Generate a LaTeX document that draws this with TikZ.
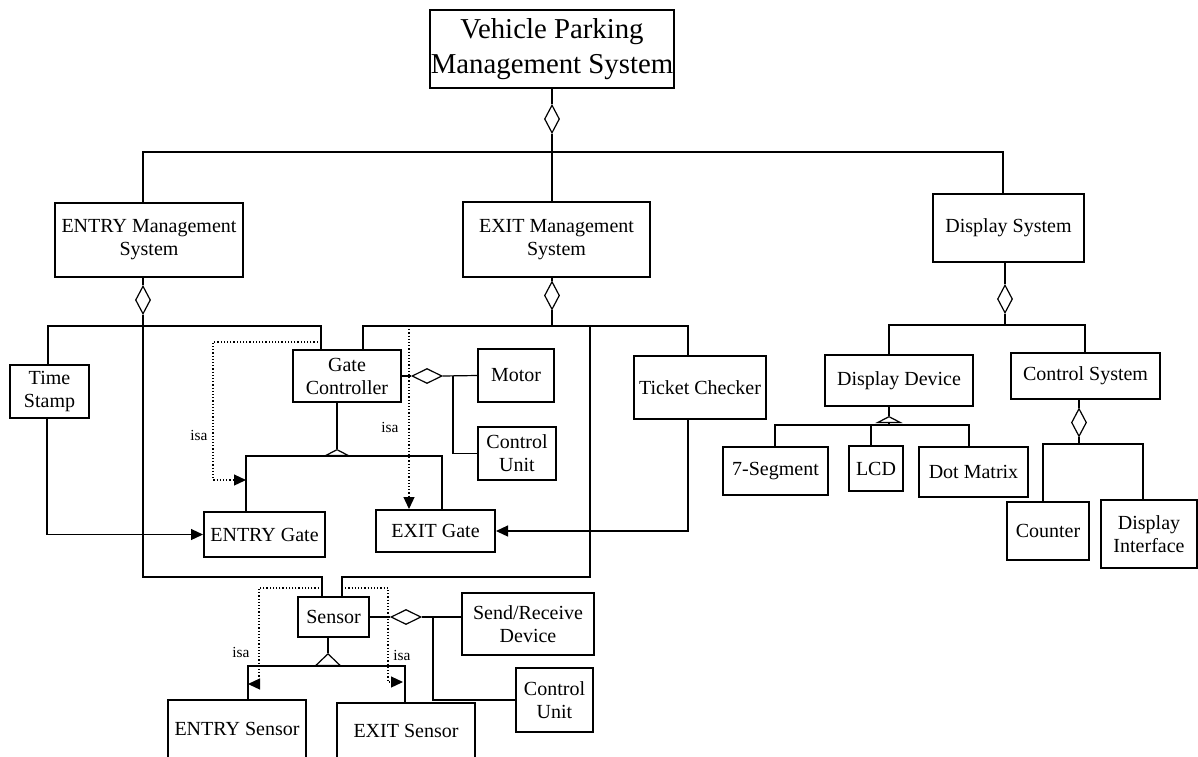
\documentclass[tikz,border=0pt]{standalone}
\usepackage{fontspec}
\setmainfont{Liberation Serif}
\usetikzlibrary{arrows.meta,shapes.geometric}

\tikzset{
  part/.style 2 args={draw, line width=1pt, minimum width=#1*0.5pt, minimum height=#2*0.5pt,
    inner sep=0pt, align=center, font=\fontsize{10}{11.5}\selectfont},
  aggv/.style={draw, diamond, inner sep=0pt, minimum width=7.5pt, minimum height=14pt},
  aggh/.style={draw, diamond, inner sep=0pt, minimum width=15pt, minimum height=7.5pt},
  gen/.style={-{Triangle[open,length=#1,width=13.5pt]}},
  gen/.default=3.5pt,
  nav/.style={-{Triangle[length=6pt,width=5.5pt]}},
  isa/.style={densely dotted, -{Triangle[length=6pt,width=5.5pt]}},
  isalbl/.style={inner sep=0pt, font=\fontsize{7.7}{9}\selectfont},
}

\begin{document}
\begin{tikzpicture}[x=0.5pt, y=-0.5pt, line width=0.6pt]
\useasboundingbox (0,0) rectangle (1198,756);
\clip (0,0) rectangle (1198,756);

% boxes
\node[part={244}{78}, font=\fontsize{14.4}{17.5}\selectfont] (title) at (552,49) {Vehicle Parking\\Management System};
\node[part={188}{74}] (entry) at (149,240) {ENTRY Management\\System};
\node[part={187}{75}] (exit) at (556.5,239.5) {EXIT Management\\System};
\node[part={151}{68}] (disp) at (1008.5,228) {Display System};
\node[part={79}{53}] (tstamp) at (49.5,391.5) {Time\\Stamp};
\node[part={108}{52}] (gatectl) at (347,376) {Gate\\Controller};
\node[part={76}{53}] (motor) at (516,375.5) {Motor};
\node[part={78}{53}] (ctlunit) at (517,453.5) {Control\\Unit};
\node[part={132}{63}] (ticket) at (700,387.5) {Ticket Checker};
\node[part={121}{45}] (entrygate) at (264.5,534.5) {ENTRY Gate};
\node[part={119}{42}] (exitgate) at (435.5,531) {EXIT Gate};
\node[part={71}{40}] (sensor) at (333.5,617) {Sensor};
\node[part={132}{62}] (sendrecv) at (528,624) {Send/Receive\\Device};
\node[part={77}{64}] (ctlunit2) at (554.5,700) {Control\\Unit};
\node[part={138}{58}] (entrysens) at (237,729) {ENTRY Sensor};
\node[part={138}{55}] (exitsens) at (406,730.5) {EXIT Sensor};
\node[part={148}{51}] (dispdev) at (899,380.5) {Display Device};
\node[part={149}{46}] (ctlsys) at (1085.5,376) {Control System};
\node[part={105}{48}] (seg7) at (775.5,471) {7-Segment};
\node[part={54}{45}] (lcd) at (876,468.5) {LCD};
\node[part={109}{50}] (dotm) at (973.5,472) {Dot Matrix};
\node[part={82}{58}] (counter) at (1048,531) {Counter};
\node[part={96}{68}] (dispif) at (1149,534) {Display\\Interface};

% aggregation diamonds
\node[aggv] (dTop) at (552,119) {};
\node[aggv] (dEntry) at (143,300) {};
\node[aggv] (dExit) at (552,295.5) {};
\node[aggv] (dDisp) at (1005,299) {};
\node[aggv] (dCtl) at (1079,422.5) {};
\node[aggh] (dGate) at (427,376) {};
\node[aggh] (dSens) at (406,617) {};

% junctions
\coordinate (bTop) at (552,152);
\coordinate (bTopL) at (143,152);
\coordinate (bTopR) at (1003,152);
\coordinate (eJ) at (143,326);
\coordinate (eBL) at (48,326);
\coordinate (eBR) at (321,326);
\coordinate (xJ) at (552,326);
\coordinate (xBL) at (363,326);
\coordinate (xBR) at (688,326);
\coordinate (xV) at (590,326);
\coordinate (sBL) at (143,577);
\coordinate (sBR) at (590,577);
\coordinate (sJL) at (322,577);
\coordinate (sJR) at (342,577);
\coordinate (tsX) at (47,0);
\coordinate (gcTip) at (337,449);
\coordinate (gcBase) at (337,456);
\coordinate (gbL) at (246,456);
\coordinate (gbR) at (442,456);
\coordinate (gcB) at (453,376);
\coordinate (snTip) at (328,653);
\coordinate (snBase) at (328,666);
\coordinate (snL) at (248,666);
\coordinate (snR) at (405,666);
\coordinate (snB) at (433,617);
\coordinate (dsJ) at (1005,325);
\coordinate (dsL) at (889,325);
\coordinate (dsR) at (1085,325);
\coordinate (ddTip) at (889,416);
\coordinate (ddBase) at (889,425);
\coordinate (ddL) at (775,425);
\coordinate (ddM) at (871,425);
\coordinate (ddR) at (969,425);
\coordinate (csJ) at (1079,444);
\coordinate (csL) at (1043,444);
\coordinate (csR) at (1143,444);
\coordinate (isaE1) at (321,342);
\coordinate (isaE2) at (213,480);
\coordinate (isaE3) at (246,480);
\coordinate (isaX1) at (409,326);
\coordinate (isaS1) at (322,588);
\coordinate (isaS2) at (259,684);
\coordinate (isaS3) at (248,684);
\coordinate (isaS4) at (342,588);
\coordinate (isaS5) at (388,682);
\coordinate (isaS6) at (403,682);

% top level
\draw (title.south) -- (dTop.north);
\draw (dTop.south) -- (bTop);
\draw (entry.north -| bTopL) -- (bTopL) -- (bTopR) -- (disp.north -| bTopR);
\draw (bTop) -- (exit.north -| bTop);

% entry side
\draw (entry.south -| dEntry) -- (dEntry.north);
\draw (dEntry.south) -- (eJ);
\draw (tstamp.north -| eBL) |- (eBR) -- (gatectl.north -| eBR);
\draw (eJ) -- (sBL) -- (sJL) -- (sensor.north -| sJL);
\draw[nav] (tstamp.south -| tsX) |- (entrygate.west);

% exit side
\draw (exit.south -| dExit) -- (dExit.north);
\draw (dExit.south) -- (xJ);
\draw (gatectl.north -| xBL) |- (xBR) -- (ticket.north -| xBR);
\draw (xV) -- (sBR) -- (sJR) -- (sensor.north -| sJR);
\draw[nav] (ticket.south -| xBR) |- (exitgate.east);

% gate controller
\draw (gatectl.south -| gcTip) -- (gcTip);
\draw[gen] (gcBase) -- (gcTip);
\draw (entrygate.north -| gbL) |- (gbR) -- (exitgate.north -| gbR);
\draw (gatectl.east) -- (dGate.west);
\draw (dGate.east) -- (motor.west);
\draw (gcB) |- (ctlunit.west);
\draw[isa] (isaE1) -| (isaE2) -- (isaE3);
\draw[isa] (isaX1) -- (exitgate.north -| isaX1);
\node[isalbl] (isaGE) at (199,435) {isa};
\node[isalbl] (isaGX) at (390,427) {isa};

% sensor
\draw (sensor.south -| snTip) -- (snTip);
\draw[gen=6.5pt] (snBase) -- (snTip);
\draw (entrysens.north -| snL) |- (snR) -- (exitsens.north -| snR);
\draw (sensor.east) -- (dSens.west);
\draw (dSens.east) -- (sendrecv.west |- dSens);
\draw (snB) |- (ctlunit2.west);
\draw[isa] (isaS1) -| (isaS2) -- (isaS3);
\draw[isa] (isaS4) -| (isaS5) -- (isaS6);
\node[isalbl] (isaSE) at (241,652) {isa};
\node[isalbl] (isaSX) at (402,655) {isa};

% display side
\draw (disp.south -| dDisp) -- (dDisp.north);
\draw (dDisp.south) -- (dsJ);
\draw (dispdev.north -| dsL) |- (dsR) -- (ctlsys.north -| dsR);
\draw (dispdev.south -| ddTip) -- (ddTip);
\draw[gen] (ddBase) -- (ddTip);
\draw (seg7.north -| ddL) |- (ddR) -- (dotm.north -| ddR);
\draw (lcd.north -| ddM) -- (ddM);
\draw (ctlsys.south -| dCtl) -- (dCtl.north);
\draw (dCtl.south) -- (csJ);
\draw (counter.north -| csL) |- (csR) -- (dispif.north -| csR);
\end{tikzpicture}
\end{document}
